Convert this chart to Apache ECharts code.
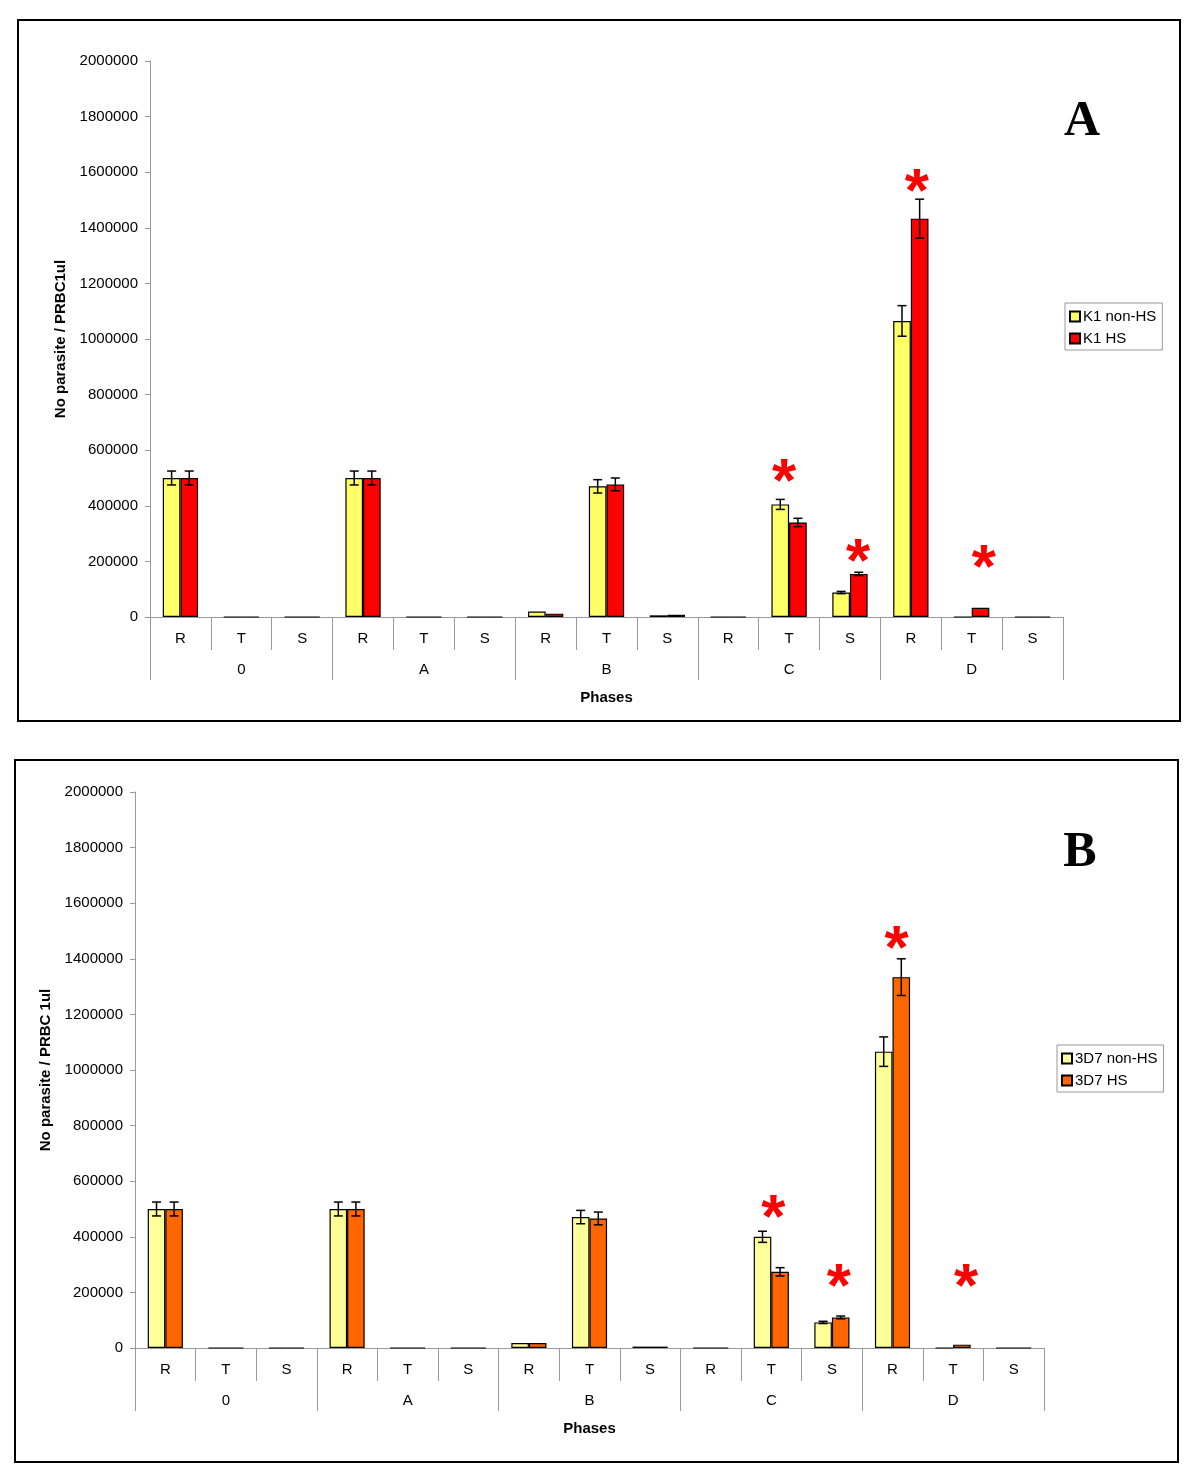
<!DOCTYPE html>
<html>
<head>
<meta charset="utf-8">
<script src="https://cdn.jsdelivr.net/npm/echarts@6/dist/echarts.min.js"></script>
<style>
html,body{margin:0;padding:0;background:#fff;}
#chart{width:1200px;height:1479px;}
</style>
</head>
<body>
<div id="chart"></div>
<script>
// ---- data ----
var stages = ['R','T','S','R','T','S','R','T','S','R','T','S','R','T','S'];
var phases = ['0','A','B','C','D'];
var yTicks = [0,200000,400000,600000,800000,1000000,1200000,1400000,1600000,1800000,2000000];

var k1NonHS    = [500000,0,0, 500000,0,0, 20000,470000,6000, 0,405000,88000, 1065000,0,0];
var k1HS       = [500000,0,0, 500000,0,0, 12000,477000,8000, 0,340000,155000, 1433000,33000,0];
var k1NonHSErr = [25000,0,0, 25000,0,0, 0,24000,0, 0,18000,4000, 55000,0,0];
var k1HSErr    = [25000,0,0, 25000,0,0, 0,23000,0, 0,15000,6000, 70000,0,0];

var d7NonHS    = [500000,0,0, 500000,0,0, 18000,471000,5000, 0,400000,92000, 1066000,0,0];
var d7HS       = [500000,0,0, 500000,0,0, 18000,466000,5000, 0,274000,110000, 1334000,12000,0];
var d7NonHSErr = [25000,0,0, 25000,0,0, 0,24000,0, 0,20000,4000, 53000,0,0];
var d7HSErr    = [25000,0,0, 25000,0,0, 0,23000,0, 0,15000,5000, 66000,0,0];

var starIndex  = [10,11,12,13];
var starLevelA = [540000,252000,1583000,230000];
var starLevelB = [522000,273000,1489000,273000];

// ---- styling constants ----
var FONT = 'Liberation Sans, Arial, sans-serif';
var FS = 15;
var BARW = 0.29;
var starShiftA = [-5,8,6,12];
var starShiftB = [2,7,4,13];

function errData(vals, errs){
  return vals.map(function(v,i){ return [i, v, errs[i]]; });
}
function errSeries(name, gridIdx, vals, errs, side){
  return {
    type:'custom', name:name, xAxisIndex:gridIdx*2, yAxisIndex:gridIdx, z:5,
    data: errData(vals, errs),
    renderItem:function(params, api){
      var idx = api.value(0), v = api.value(1), e = api.value(2);
      if(!(e > 0)) return null;
      var c = api.coord([idx, v]);
      var band = api.size([1,0])[0];
      var x = c[0] + side*band*BARW/2;
      var t = api.coord([idx, v+e])[1];
      var b = api.coord([idx, v-e])[1];
      var cap = 4.5;
      var st = {stroke:'#000', lineWidth:1.5};
      return {type:'group', children:[
        {type:'line', shape:{x1:x,y1:t,x2:x,y2:b}, style:st},
        {type:'line', shape:{x1:x-cap,y1:t,x2:x+cap,y2:t}, style:st},
        {type:'line', shape:{x1:x-cap,y1:b,x2:x+cap,y2:b}, style:st}
      ]};
    }
  };
}
function starSeries(gridIdx, levels, shifts){
  return {
    type:'custom', xAxisIndex:gridIdx*2, yAxisIndex:gridIdx, z:6,
    data: starIndex.map(function(ix,i){ return [ix, levels[i], shifts[i]]; }),
    renderItem:function(params, api){
      var c = api.coord([api.value(0), api.value(1)]);
      return {type:'text', x:c[0]+api.value(2), y:c[1]+17,
        style:{text:'*', fill:'#ff0000', font:'bold 62px ' + FONT, align:'center', verticalAlign:'middle'}};
    }
  };
}
function barSeries(name, gridIdx, vals, color){
  return {
    type:'bar', name:name, xAxisIndex:gridIdx*2, yAxisIndex:gridIdx,
    data: vals, barWidth:(BARW*100)+'%', barGap:'0%',
    itemStyle:{color:color, borderColor:'#000', borderWidth:1.2}
  };
}
function xAxes(gridIdx){
  return [
    {type:'category', gridIndex:gridIdx, data:stages, position:'bottom',
     axisLine:{show:true, lineStyle:{color:'#999'}},
     axisTick:{show:true, interval:0, alignWithLabel:false, length:33, lineStyle:{color:'#999'}},
     axisLabel:{margin:14, fontSize:FS, color:'#000', fontFamily:FONT, interval:0},
     name:'Phases', nameLocation:'middle', nameGap:73,
     nameTextStyle:{fontSize:FS, fontWeight:'bold', color:'#000', fontFamily:FONT}},
    {type:'category', gridIndex:gridIdx, data:phases, position:'bottom',
     axisLine:{show:false},
     axisTick:{show:true, interval:0, alignWithLabel:false, length:63, lineStyle:{color:'#999'}},
     axisLabel:{margin:45, fontSize:FS, color:'#000', fontFamily:FONT, interval:0}}
  ];
}
function yAxis(gridIdx, name){
  return {type:'value', gridIndex:gridIdx, min:yTicks[0], max:yTicks[yTicks.length-1],
    interval:yTicks[1]-yTicks[0],
    axisLine:{show:true, lineStyle:{color:'#999'}},
    axisTick:{show:true, length:5, lineStyle:{color:'#999'}},
    splitLine:{show:false},
    axisLabel:{margin:12, fontSize:FS, color:'#000', fontFamily:FONT,
      formatter:function(v){ return String(v); }},
    name:name, nameLocation:'middle', nameGap:80,
    nameTextStyle:{fontSize:FS, fontWeight:'bold', color:'#000', fontFamily:FONT}};
}
function legend(left, top, names){
  return {orient:'vertical', left:left, top:top, data:names,
    itemWidth:10, itemHeight:10, itemGap:7, icon:'rect',
    borderColor:'#999', borderWidth:1, padding:[6,6,4,4],
    textStyle:{fontSize:FS, color:'#000', fontFamily:FONT, padding:[0,0,0,-2]},
    selectedMode:false};
}

var chart = echarts.init(document.getElementById('chart'), null, {renderer:'canvas'});
chart.setOption({
  animation:false,
  backgroundColor:'#fff',
  grid:[
    {left:150, right:137, top:61, height:556},
    {left:135, right:156, top:792, height:556}
  ],
  xAxis: xAxes(0).concat(xAxes(1)),
  yAxis:[yAxis(0,'No parasite / PRBC1ul'), yAxis(1,'No parasite / PRBC 1ul')],
  legend:[
    legend(1065, 303, ['K1 non-HS','K1 HS']),
    legend(1057, 1045, ['3D7 non-HS','3D7 HS'])
  ],
  graphic:[
    {type:'rect', shape:{x:18, y:20, width:1162, height:701}, style:{fill:null, stroke:'#000', lineWidth:2}, silent:true},
    {type:'rect', shape:{x:15, y:760, width:1163, height:702}, style:{fill:null, stroke:'#000', lineWidth:2}, silent:true},
    {type:'text', x:1082, y:122, style:{text:'A', font:'bold 50px Liberation Serif, serif', fill:'#000', align:'center', verticalAlign:'middle'}},
    {type:'text', x:1080, y:853, style:{text:'B', font:'bold 50px Liberation Serif, serif', fill:'#000', align:'center', verticalAlign:'middle'}}
  ],
  series:[
    barSeries('K1 non-HS', 0, k1NonHS, '#ffff66'),
    barSeries('K1 HS', 0, k1HS, '#ff0000'),
    errSeries('errA1', 0, k1NonHS, k1NonHSErr, -1),
    errSeries('errA2', 0, k1HS, k1HSErr, 1),
    starSeries(0, starLevelA, starShiftA),
    barSeries('3D7 non-HS', 1, d7NonHS, '#ffff99'),
    barSeries('3D7 HS', 1, d7HS, '#ff6600'),
    errSeries('errB1', 1, d7NonHS, d7NonHSErr, -1),
    errSeries('errB2', 1, d7HS, d7HSErr, 1),
    starSeries(1, starLevelB, starShiftB)
  ]
});
</script>
</body>
</html>
